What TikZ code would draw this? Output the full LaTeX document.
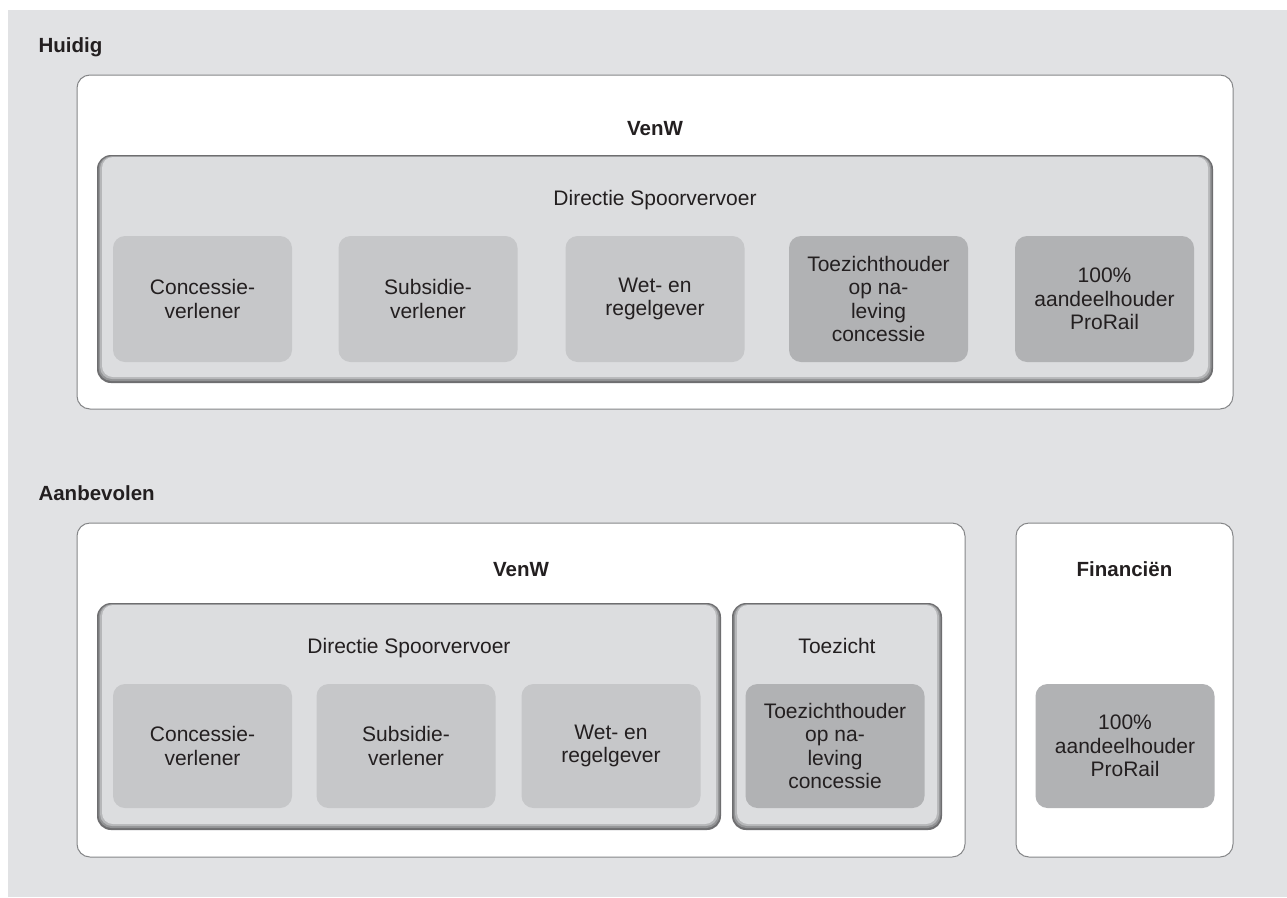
\documentclass[tikz,border=0pt]{standalone}
\usepackage{fontspec}
\setmainfont{Liberation Sans}
\definecolor{bgc}{HTML}{E1E2E4}
\definecolor{dirc}{HTML}{DCDDDF}
\definecolor{lightc}{HTML}{C6C7C9}
\definecolor{darkc}{HTML}{B1B2B4}
\definecolor{edgec}{HTML}{858688}
\definecolor{txt}{HTML}{231F20}
\definecolor{bev1}{HTML}{6E6E70}
\definecolor{bev2}{HTML}{929395}
\definecolor{bev3}{HTML}{B6B7B9}
\newcommand\bevelbox[5]{%
  \fill[bev1, rounded corners=14pt] (#2,#3) rectangle (#4,#5);
  \fill[bev2, rounded corners=13pt] ({#2+1.5},{#3+1}) rectangle ({#4-1.5},{#5-2});
  \fill[bev3, rounded corners=12pt] ({#2+3},{#3+1.5}) rectangle ({#4-3},{#5-4});
  \node[dirbox, minimum width={#4-#2-10}, minimum height={#5-#3-8}] (#1) at ({(#2+#4)/2},{(#3+#5)/2-2}) {};
}
\begin{document}
\begin{tikzpicture}[x=1pt,y=-1pt,
  every node/.style={text=txt, font=\fontsize{21}{23.5}\selectfont},
  outerbox/.style={draw=edgec, line width=1pt, fill=white, rounded corners=13pt, inner sep=0pt},
  dirbox/.style={fill=dirc, rounded corners=11pt, inner sep=0pt},
  lightbox/.style={fill=lightc, rounded corners=12pt, minimum width=179, minimum height=126, inner sep=0pt, align=center},
  darkbox/.style={lightbox, fill=darkc},
  heading/.style={anchor=base west, font=\fontsize{20.5}{23}\selectfont\bfseries},
  boxtitle/.style={anchor=base, font=\fontsize{20.5}{23}\selectfont\bfseries},
  subtitle/.style={anchor=base}
]
\useasboundingbox (0,0) rectangle (1287,897);
\fill[bgc] (8,10) rectangle (1287,897);

% ---------- Huidig ----------
\node[heading] (huidig) at (35,52) {Huidig};
\node[outerbox, minimum width=1156, minimum height=334] (venwH) at (655,242) {};
\node[boxtitle] (venwHt) at (655,135) {VenW};
\bevelbox{dirH}{97}{155}{1213}{383}
\node[subtitle] (dirHt) at (655,205) {Directie Spoorvervoer};
\node[lightbox] (h1) at (202.5,299) {Concessie-\\verlener};
\node[lightbox] (h2) at (428,299) {Subsidie-\\verlener};
\node[lightbox] (h3) at (655,299) {Wet- en\\regelgever};
\node[darkbox] (h4) at (878.5,299) {Toezichthouder\\op na-\\leving\\concessie};
\node[darkbox] (h5) at (1104.5,299) {100\%\\aandeelhouder\\ProRail};

% ---------- Aanbevolen ----------
\node[heading] (aanb) at (35,500) {Aanbevolen};
\node[outerbox, minimum width=888, minimum height=334] (venwA) at (521,690) {};
\node[boxtitle] (venwAt) at (521,576) {VenW};
\node[outerbox, minimum width=217, minimum height=334] (finA) at (1124.5,690) {};
\node[boxtitle] (finAt) at (1124.5,576) {Financiën};
\bevelbox{dirA}{97}{603}{721}{830}
\node[subtitle] (dirAt) at (409,653) {Directie Spoorvervoer};
\bevelbox{toeA}{732}{603}{942}{830}
\node[subtitle] (toeAt) at (837,653) {Toezicht};
\node[lightbox, minimum height=124] (a1) at (202.5,746) {Concessie-\\verlener};
\node[lightbox, minimum height=124] (a2) at (406,746) {Subsidie-\\verlener};
\node[lightbox, minimum height=124] (a3) at (611,746) {Wet- en\\regelgever};
\node[darkbox, minimum height=124] (a4) at (835,746) {Toezichthouder\\op na-\\leving\\concessie};
\node[darkbox, minimum height=124] (a5) at (1125,746) {100\%\\aandeelhouder\\ProRail};
\end{tikzpicture}
\end{document}
